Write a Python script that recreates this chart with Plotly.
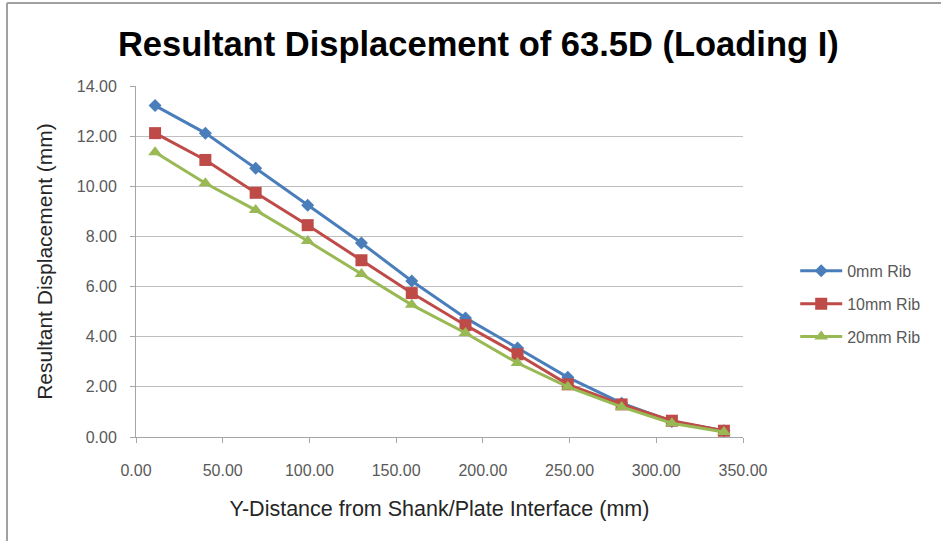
import plotly.graph_objects as go

# Distance from shank/plate interface (mm)
y_distance = [11, 40, 69, 99, 130, 159, 190, 220, 249, 280, 309, 339]

# Resultant displacement (mm) for each rib size
disp_0mm = [13.22, 12.12, 10.72, 9.24, 7.74, 6.22, 4.75, 3.55, 2.38, 1.35, 0.62, 0.25]
disp_10mm = [12.12, 11.05, 9.74, 8.45, 7.05, 5.74, 4.46, 3.30, 2.10, 1.30, 0.65, 0.25]
disp_20mm = [11.36, 10.12, 9.05, 7.82, 6.50, 5.27, 4.15, 2.95, 2.00, 1.20, 0.55, 0.20]

series_names = ["0mm Rib", "10mm Rib", "20mm Rib"]
series_colors = ["#4A7EBB", "#BE4B48", "#98B954"]
series_symbols = ["diamond", "square", "triangle-up"]
series_sizes = [10, 12, 12]

x_ticks = [0, 50, 100, 150, 200, 250, 300, 350]
y_ticks = [0, 2, 4, 6, 8, 10, 12, 14]

FONT = "Liberation Sans, Arial, sans-serif"

fig = go.Figure()
for name, vals, color, sym, sz in zip(series_names, [disp_0mm, disp_10mm, disp_20mm],
                                      series_colors, series_symbols, series_sizes):
    fig.add_trace(go.Scatter(
        x=y_distance, y=vals, name=name, legendgroup=name, mode="lines+markers",
        line=dict(color=color, width=3),
        marker=dict(symbol=sym, size=sz, color=color),
    ))

axis_font = dict(family=FONT, size=16, color="#595959")

fig.update_layout(
    width=941, height=541,
    margin=dict(l=136, r=198, t=86, b=104),
    paper_bgcolor="white", plot_bgcolor="white",
    font=dict(family=FONT),
    title=dict(text="<b>Resultant Displacement of 63.5D (Loading I)</b>",
               font=dict(size=34.5, color="black", family=FONT),
               x=0.564, xanchor="center", xref="paper", y=0.918, yanchor="middle"),
    xaxis=dict(range=[0, 350], tickvals=x_ticks,
               ticktext=[f"{v:.2f}" for v in x_ticks],
               showgrid=False, zeroline=False, showline=True, linecolor="#A6A6A6",
               linewidth=1, ticks="outside", ticklen=5, tickcolor="#A6A6A6",
               tickfont=axis_font, ticklabelstandoff=14,
               title=dict(text="Y-Distance from Shank/Plate Interface (mm)",
                          font=dict(size=21.5, color="#262626"), standoff=22)),
    yaxis=dict(range=[0, 14], tickvals=y_ticks,
               ticktext=[f"{v:.2f}" for v in y_ticks],
               showgrid=True, gridcolor="#BFBFBF", gridwidth=1, zeroline=False,
               showline=True, linecolor="#A6A6A6", linewidth=1,
               ticks="outside", ticklen=5, tickcolor="#A6A6A6",
               tickfont=axis_font, ticklabelstandoff=10,
               title=dict(text="Resultant Displacement (mm)",
                          font=dict(size=21, color="#262626"), standoff=18)),
    legend=dict(x=1.086, y=0.379, xanchor="left", yanchor="middle",
                font=dict(size=16, color="#595959"), itemwidth=42,
                tracegroupgap=9, bgcolor="rgba(0,0,0,0)"),
    shapes=[
        dict(type="line", xref="paper", yref="paper",
             x0=-0.2125, x1=1.4, y0=1.2365, y1=1.2365,
             line=dict(color="#A0A0A0", width=2)),
        dict(type="line", xref="paper", yref="paper",
             x0=-0.2125, x1=-0.2125, y0=-0.4, y1=1.2365,
             line=dict(color="#A0A0A0", width=2)),
    ],
)

fig.write_html("out.html")
